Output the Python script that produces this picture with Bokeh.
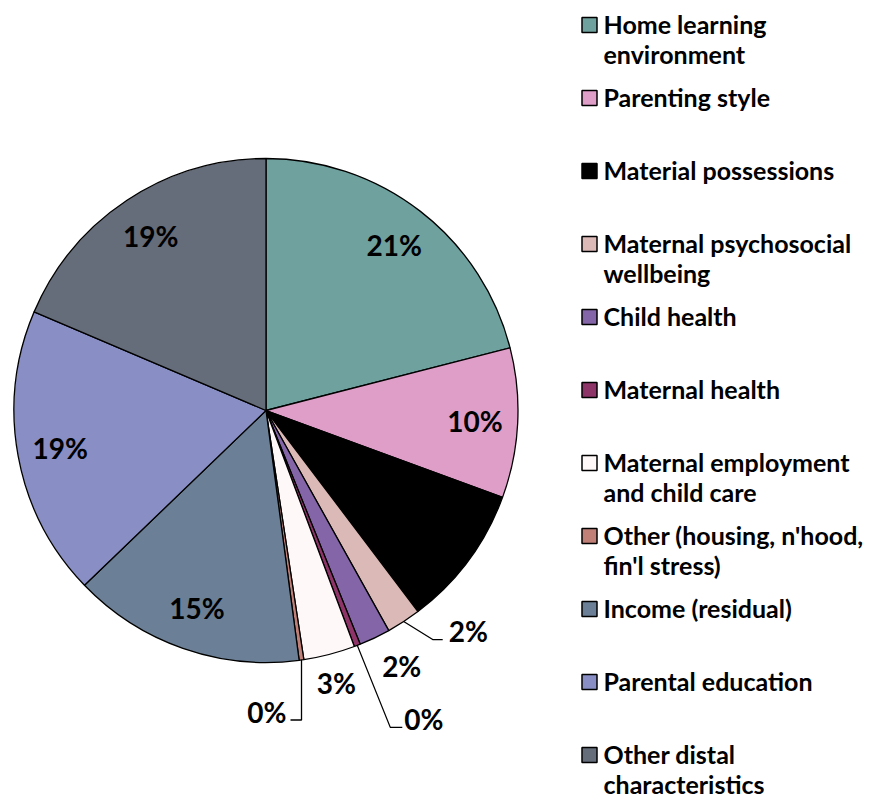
import numpy as np
from bokeh.plotting import figure
from bokeh.models import Range1d, ColumnDataSource
from bokeh.embed import file_html
from bokeh.resources import INLINE
from bokeh.core.properties import value

# ---------------- data ----------------
categories = [
    "Home learning environment", "Parenting style", "Material possessions",
    "Maternal psychosocial wellbeing", "Child health", "Maternal health",
    "Maternal employment and child care", "Other (housing, n'hood, fin'l stress)",
    "Income (residual)", "Parental education", "Other distal characteristics",
]
legend_labels = [
    "Home learning\nenvironment", "Parenting style", "Material possessions",
    "Maternal psychosocial\nwellbeing", "Child health", "Maternal health",
    "Maternal employment\nand child care", "Other (housing, n'hood,\nfin'l stress)",
    "Income (residual)", "Parental education", "Other distal\ncharacteristics",
]
shares = [21.0, 9.6, 9.1, 2.2, 2.0, 0.4, 3.3, 0.3, 14.9, 18.6, 18.6]
colors = ["#6FA19E", "#DF9EC8", "#000000", "#DBB9B6", "#8466A8", "#8E3468",
          "#FFF8F8", "#C08078", "#6B8096", "#898FC5", "#656C7A"]
label_shown = [True, True, False, True, True, True, True, True, True, True, True]

# ---------------- styling / layout ----------------
FONT = value("Lato")
W, H = 869, 801
CX, CY_SCR, R = 265.5, 410.0, 252.0
def sy(y):  # screen y -> data y
    return H - y
CY = sy(CY_SCR)

# outside label placements: offset from slice edge point (screen px)
place = {
    3: dict(off=(45, 9), align="left", leader=[(0, 0), (29, 18), (39, 18)]),
    4: dict(off=(27, 28), align="center", leader=None),
    5: dict(off=(47, 74), align="left", leader=[(0, 0), (33, 82), (45, 82)]),
    6: dict(off=(7, 29), align="center", leader=None),
    7: dict(off=(-15, 52), align="right", leader=[(0, 0), (0, 60), (-11, 60)]),
}
IN_FACTOR = 0.83

p = figure(width=W, height=H, x_range=Range1d(0, W), y_range=Range1d(0, H),
           output_backend="svg", toolbar_location=None, min_border=0,
           x_axis_type=None, y_axis_type=None)
p.outline_line_color = None
p.background_fill_color = "white"
p.border_fill_color = "white"

vals = np.array(shares, dtype=float)
frac = vals / vals.sum()
cum_end = np.cumsum(frac)
cum_start = cum_end - frac
start_ang = np.pi / 2 - 2 * np.pi * cum_end
end_ang = np.pi / 2 - 2 * np.pi * cum_start

src = ColumnDataSource(dict(start=start_ang, end=end_ang, color=colors, cat=categories))
p.wedge(x=CX, y=CY, radius=R, start_angle="start", end_angle="end",
        fill_color="color", line_color="black", line_width=1.3, source=src)

# percentage labels
mid = np.pi / 2 - 2 * np.pi * (cum_start + frac / 2)
pct = [f"{int(v / vals.sum() * 100 + 0.5)}%" for v in vals]
in_x, in_y, in_t = [], [], []
out_groups = {"left": ([], [], []), "center": ([], [], []), "right": ([], [], [])}
lead_xs, lead_ys = [], []
for i, m in enumerate(mid):
    if not label_shown[i]:
        continue
    if i in place:
        ex, ey = CX + R * np.cos(m), CY + R * np.sin(m)
        pl = place[i]
        gx, gy, gt = out_groups[pl["align"]]
        gx.append(ex + pl["off"][0]); gy.append(ey - pl["off"][1]); gt.append(pct[i])
        if pl["leader"]:
            lead_xs.append([ex + a for a, b in pl["leader"]])
            lead_ys.append([ey - b for a, b in pl["leader"]])
    else:
        in_x.append(CX + IN_FACTOR * R * np.cos(m))
        in_y.append(CY + IN_FACTOR * R * np.sin(m))
        in_t.append(pct[i])

p.multi_line(xs=lead_xs, ys=lead_ys, line_color="black", line_width=1.3)
p.text(x=in_x, y=in_y, text=in_t, text_align="center", text_baseline="middle",
       text_font=FONT, text_font_style="bold", text_font_size="28px", text_color="black")
for al, (gx, gy, gt) in out_groups.items():
    if gx:
        p.text(x=gx, y=gy, text=gt, text_align=al, text_baseline="middle",
               text_font=FONT, text_font_style="bold", text_font_size="28px",
               text_color="black")

# legend
n = len(categories)
leg_y = np.array([sy(24.5 + i * 73.0) for i in range(n)])
p.rect(x=[589.0] * n, y=leg_y, width=15, height=15, fill_color=colors,
       line_color="black", line_width=1.5)
p.text(x=[603] * n, y=leg_y + 16, text=legend_labels, text_align="left",
       text_baseline="top", text_font=FONT, text_font_style="bold",
       text_font_size="25px", text_color="black", text_line_height=1.0)

open("out.html", "w").write(file_html(p, INLINE))
